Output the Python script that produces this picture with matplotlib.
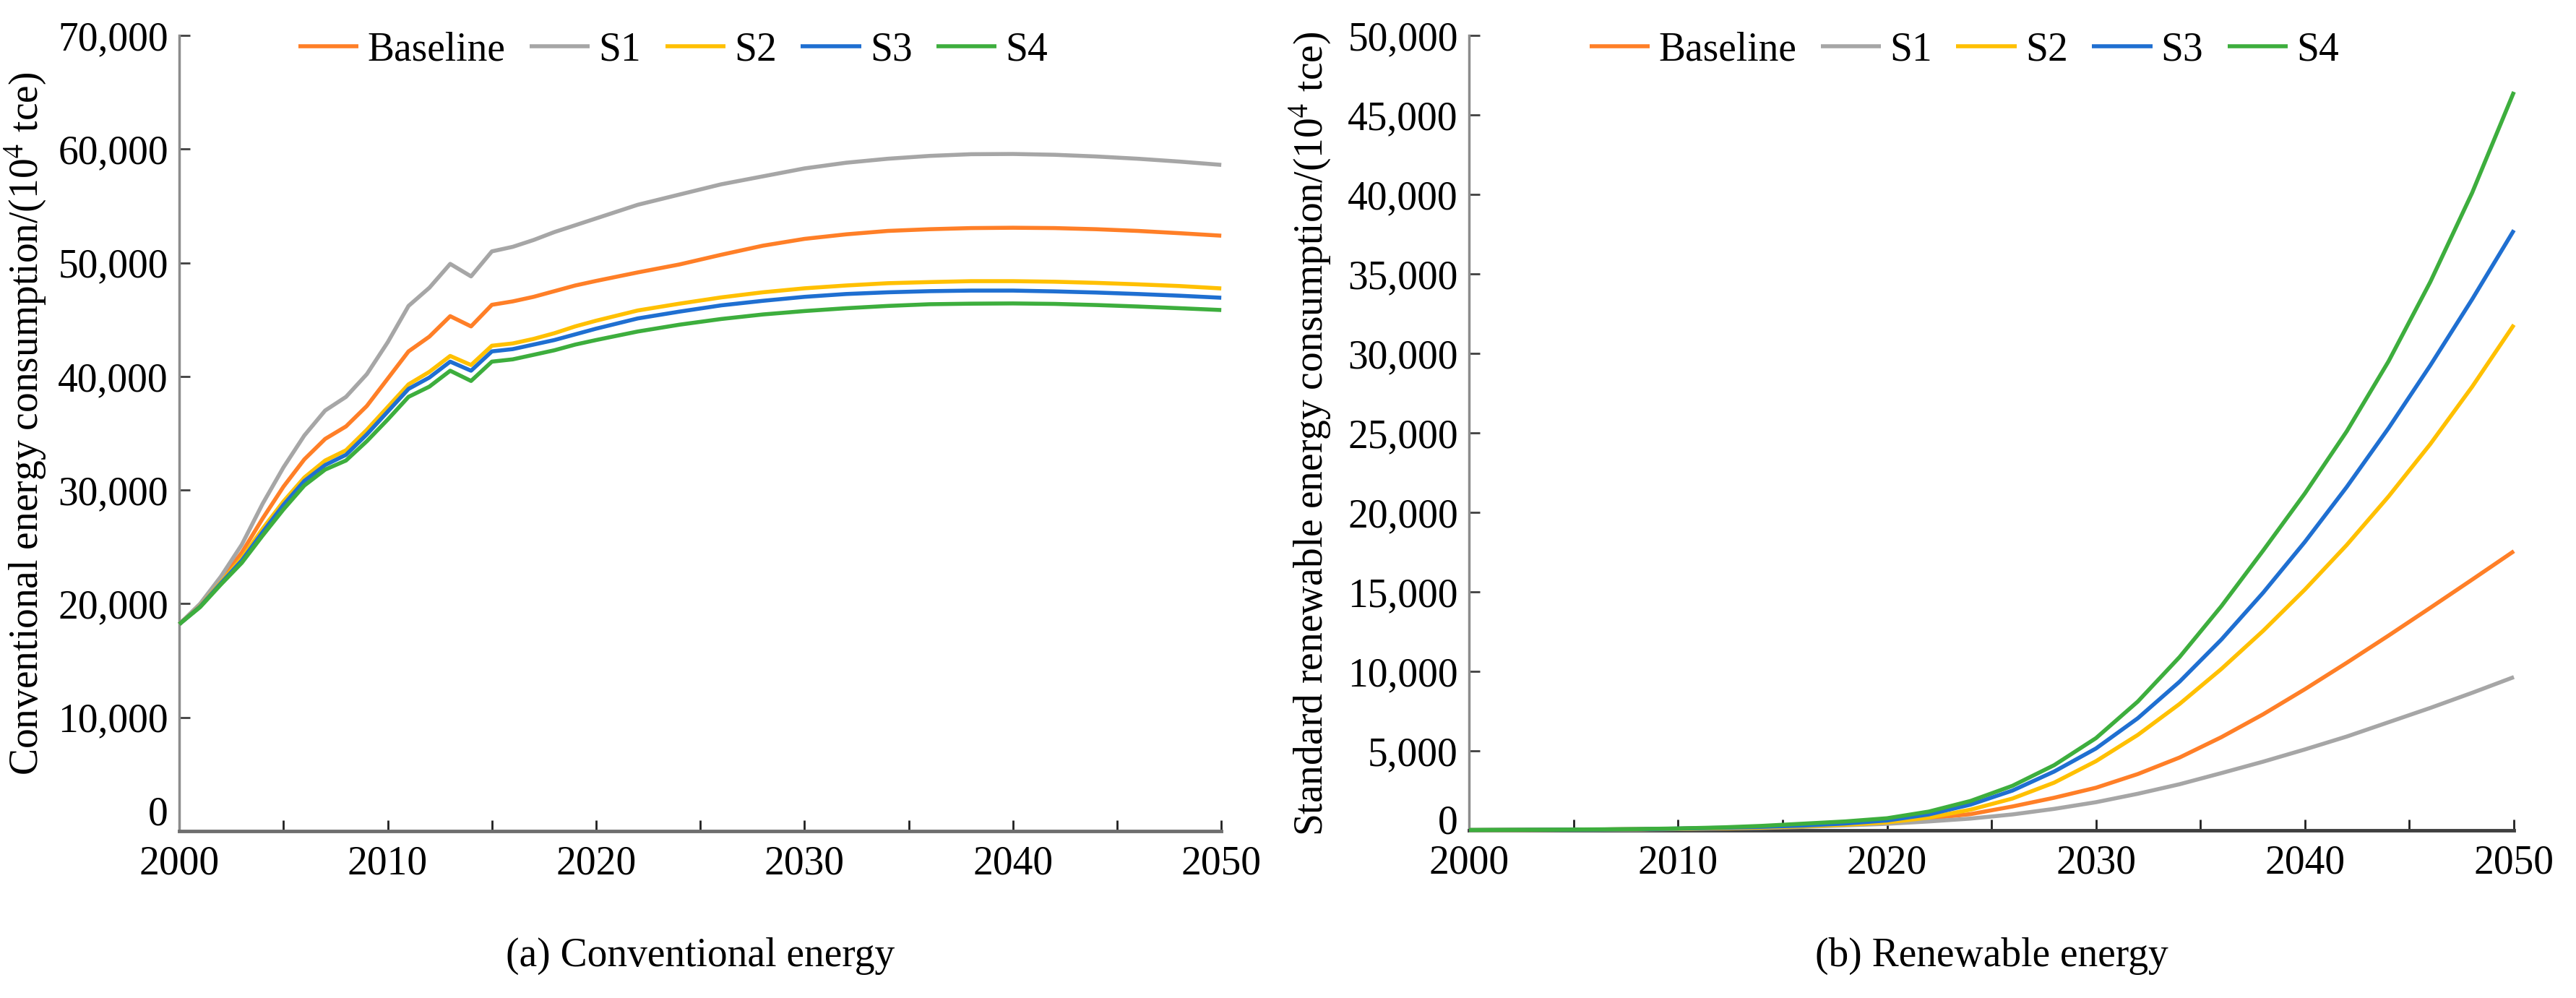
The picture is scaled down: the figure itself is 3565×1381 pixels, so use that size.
import numpy as np
import matplotlib
matplotlib.use('Agg')
import matplotlib.pyplot as plt
from matplotlib.ticker import FuncFormatter, MultipleLocator

plt.rcParams.update({
    'font.family': ['Liberation Serif', 'DejaVu Serif'],
    'mathtext.fontset': 'stix',
    'font.size': 40,
})

SERIES = ['Baseline', 'S1', 'S2', 'S3', 'S4']
COLORS = ['#ff7f27', '#a6a6a6', '#ffc000', '#1f6fd1', '#3dae3d']

# (a) conventional energy, 10^4 tce
years_a = [2000, 2001, 2002, 2003, 2004, 2005, 2006, 2007, 2008, 2009, 2010,
           2011, 2012, 2013, 2014, 2015, 2016, 2017, 2018, 2019, 2020,
           2022, 2024, 2026, 2028, 2030, 2032, 2034, 2036, 2038, 2040,
           2042, 2044, 2046, 2048, 2050]
conv_baseline = [18200, 19900, 22100, 24500, 27500, 30300, 32700, 34500, 35600, 37400, 39800,
                 42200, 43500, 45300, 44400, 46300, 46600, 47000, 47500, 48000, 48400,
                 49150, 49850, 50700, 51500, 52100, 52500, 52800, 52950, 53050, 53080,
                 53050, 52950, 52800, 52600, 52380]
conv_s1 = [18200, 20000, 22400, 25200, 28800, 32000, 34800, 37000, 38200, 40200, 43000,
           46200, 47800, 49900, 48800, 51000, 51400, 52000, 52700, 53300, 53900,
           55100, 56000, 56900, 57600, 58300, 58800, 59150, 59400, 59550, 59570,
           59500, 59350, 59150, 58900, 58610]
conv_s2 = [18200, 19800, 21900, 24000, 26600, 29000, 31100, 32600, 33500, 35300, 37300,
           39300, 40400, 41800, 41000, 42700, 42900, 43300, 43800, 44400, 44900,
           45800, 46400, 46950, 47400, 47750, 48000, 48200, 48300, 48380, 48380,
           48330, 48230, 48100, 47950, 47740]
conv_s3 = [18200, 19750, 21800, 23800, 26300, 28700, 30800, 32200, 33100, 34900, 36900,
           38900, 39900, 41300, 40500, 42200, 42400, 42800, 43200, 43700, 44200,
           45100, 45700, 46250, 46650, 47000, 47250, 47400, 47500, 47550, 47550,
           47480, 47380, 47250, 47100, 46920]
conv_s4 = [18200, 19700, 21700, 23600, 26000, 28300, 30400, 31800, 32600, 34300, 36200,
           38200, 39100, 40500, 39600, 41300, 41500, 41900, 42300, 42800, 43200,
           43950, 44550, 45050, 45450, 45750, 46000, 46200, 46350, 46400, 46420,
           46380, 46280, 46150, 46000, 45840]

# (b) standard renewable energy, 10^4 tce
years_b = [2000, 2002, 2004, 2006, 2008, 2010, 2012, 2014, 2016, 2018, 2020, 2022, 2024,
           2026, 2028, 2030, 2032, 2034, 2036, 2038, 2040, 2042, 2044, 2046, 2048, 2050]
ren_baseline = [10, 20, 30, 50, 70, 100, 150, 220, 320, 420, 550, 750, 1020,
                1500, 2050, 2680, 3540, 4580, 5860, 7300, 8880, 10540, 12250, 14000, 15770, 17560]
ren_s1 = [0, 10, 20, 30, 50, 80, 110, 150, 220, 310, 410, 560, 740,
          1000, 1350, 1770, 2300, 2900, 3600, 4320, 5090, 5900, 6800, 7700, 8650, 9640]
ren_s2 = [20, 30, 40, 50, 70, 100, 130, 180, 250, 350, 500, 800, 1300,
          2000, 3000, 4350, 6000, 7950, 10150, 12550, 15150, 17950, 21000, 24300, 27900, 31800]
ren_s3 = [20, 30, 40, 50, 70, 110, 160, 220, 300, 430, 620, 1000, 1620,
          2500, 3700, 5150, 7050, 9350, 12000, 14950, 18150, 21600, 25300, 29250, 33400, 37750]
ren_s4 = [20, 30, 40, 60, 80, 120, 180, 280, 420, 560, 760, 1180, 1850,
          2800, 4100, 5800, 8100, 10900, 14100, 17600, 21200, 25100, 29500, 34500, 40100, 46450]

conv = [conv_baseline, conv_s1, conv_s2, conv_s3, conv_s4]
ren = [ren_baseline, ren_s1, ren_s2, ren_s3, ren_s4]

fig = plt.figure(figsize=(35.65, 13.81), dpi=100)
ax1 = fig.add_axes([0.0696, 0.1673, 0.4045, 0.7972])
ax2 = fig.add_axes([0.5703, 0.1680, 0.4056, 0.7965])

# zero is written separately (it sits a bit above the axis line in the original)
thousands = FuncFormatter(lambda v, p: '' if v == 0 else f'{int(v):,}')


def style_axis(ax, ymax, ystep, bottom_color, zero_dy):
    ax.set_xlim(2000, 2050)
    ax.set_ylim(0, ymax)
    ax.xaxis.set_major_locator(MultipleLocator(10))
    ax.xaxis.set_minor_locator(MultipleLocator(5))
    ax.yaxis.set_major_locator(MultipleLocator(ystep))
    ax.yaxis.set_major_formatter(thousands)
    for s in ['top', 'right']:
        ax.spines[s].set_visible(False)
    ax.spines['left'].set_color('#8c8c8c')
    ax.spines['left'].set_linewidth(2.5)
    ax.spines['bottom'].set_color(bottom_color)
    ax.spines['bottom'].set_linewidth(3.5)
    ax.tick_params(axis='y', direction='in', length=11, width=2,
                   color='#404040', pad=11, labelsize=40)
    ax.tick_params(axis='x', which='both', direction='in', length=11, width=2,
                   color='#202020', pad=14, labelsize=40)
    ax.annotate('0', xy=(0, 0), xycoords=('axes fraction', 'data'),
                xytext=(-11, zero_dy), textcoords='offset points',
                ha='right', va='center', fontsize=40, annotation_clip=False)


for ax, data, years in [(ax1, conv, years_a), (ax2, ren, years_b)]:
    for name, vals, col in zip(SERIES, data, COLORS):
        ax.plot(years, vals, color=col, lw=4, label=name,
                solid_capstyle='butt', clip_on=False, zorder=3)
    ax.legend(loc='center', bbox_to_anchor=(0.474, 0.981), ncol=5, frameon=False,
              fontsize=40, handlelength=1.5, handletextpad=0.22, columnspacing=0.6)

style_axis(ax1, 70000, 10000, '#6e6e6e', 16)
style_axis(ax2, 50000, 5000, '#404040', 6.5)

ax1.set_ylabel(r'Conventional energy consumption/(10$^4$ tce)', fontsize=40)
ax1.yaxis.set_label_coords(-0.126, 0.512)
ax2.set_ylabel(r'Standard renewable energy consumption/(10$^4$ tce)', fontsize=40)
ax2.yaxis.set_label_coords(-0.131, 0.499)

fig.text(0.2718, 0.042, '(a) Conventional energy', ha='center', va='center', fontsize=40)
fig.text(0.7731, 0.042, '(b) Renewable energy', ha='center', va='center', fontsize=40)

fig.savefig('out.png', dpi=100, facecolor='white')
